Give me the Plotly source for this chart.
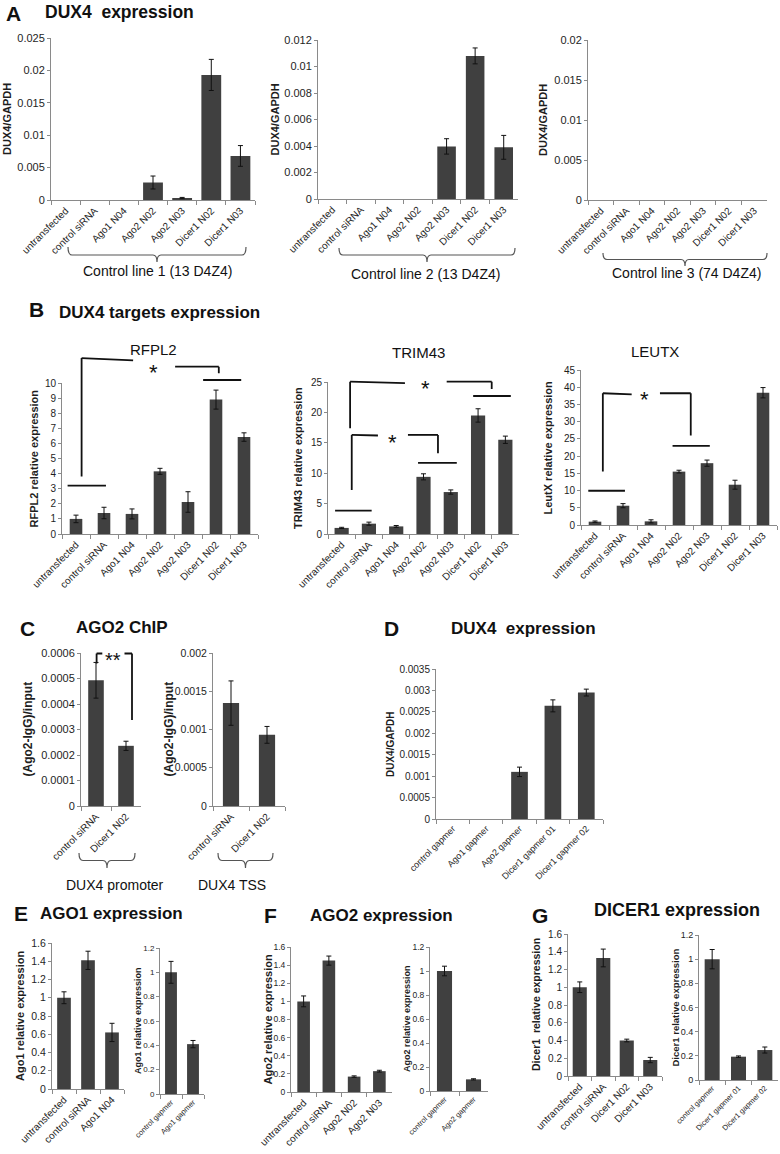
import plotly.graph_objects as go

# ------------------------------------------------------------------ data
sirna_cats = ["untransfected", "control siRNA", "Ago1 N04", "Ago2 N02",
              "Ago2 N03", "Dicer1 N02", "Dicer1 N03"]
chip_cats = ["control siRNA", "Dicer1 N02"]
gapmer_cats = ["control gapmer", "Ago1 gapmer", "Ago2 gapmer",
               "Dicer1 gapmer 01", "Dicer1 gapmer 02"]
ago1_sirna_cats = ["untransfected", "control siRNA", "Ago1 N04"]
ago1_gapmer_cats = ["control gapmer", "Ago1 gapmer"]
ago2_sirna_cats = ["untransfected", "control siRNA", "Ago2 N02", "Ago2 N03"]
ago2_gapmer_cats = ["control gapmer", "Ago2 gapmer"]
dicer_sirna_cats = ["untransfected", "control siRNA", "Dicer1 N02", "Dicer1 N03"]
dicer_gapmer_cats = ["control gapmer", "Dicer1 gapmer 01", "Dicer1 gapmer 02"]

a1_vals = [0, 0, 0, 0.0027, 0.0003, 0.0193, 0.0068]
a1_err = [0, 0, 0, 0.0010, 0.0001, 0.0024, 0.0016]
a2_vals = [0, 0, 0, 0, 0.00397, 0.0108, 0.0039]
a2_err = [0, 0, 0, 0, 0.00058, 0.0006, 0.0009]
a3_vals = [0, 0, 0, 0, 0, 0, 0]
a3_err = [0, 0, 0, 0, 0, 0, 0]

rfpl2_vals = [1.0, 1.39, 1.33, 4.15, 2.12, 8.9, 6.42]
rfpl2_err = [0.25, 0.38, 0.33, 0.2, 0.68, 0.63, 0.28]
trim43_vals = [1.0, 1.7, 1.25, 9.4, 6.9, 19.5, 15.5]
trim43_err = [0.1, 0.25, 0.15, 0.5, 0.35, 1.1, 0.6]
leutx_vals = [0.97, 5.6, 1.06, 15.5, 17.95, 11.7, 38.4]
leutx_err = [0.2, 0.6, 0.45, 0.4, 0.9, 1.3, 1.5]

chip_prom_vals = [0.000493, 0.000236]
chip_prom_err = [0.00007, 0.000018]
chip_tss_vals = [0.001345, 0.00093]
chip_tss_err = [0.00029, 0.00011]

d_vals = [0, 0, 0.0011, 0.00264, 0.00295]
d_err = [0, 0, 0.00011, 0.00014, 0.00008]

e1_vals = [1.0, 1.41, 0.62]
e1_err = [0.065, 0.1, 0.1]
e2_vals = [1.0, 0.41]
e2_err = [0.09, 0.03]
f1_vals = [1.0, 1.45, 0.17, 0.23]
f1_err = [0.06, 0.05, 0.008, 0.01]
f2_vals = [1.0, 0.097]
f2_err = [0.04, 0.005]
g1_vals = [1.0, 1.33, 0.40, 0.18]
g1_err = [0.06, 0.1, 0.015, 0.03]
g2_vals = [1.0, 0.193, 0.248]
g2_err = [0.08, 0.006, 0.025]

# tick labels (Excel style)
a1_ticks = ["0", "0.005", "0.01", "0.015", "0.02", "0.025"]
a2_ticks = ["0", "0.002", "0.004", "0.006", "0.008", "0.01", "0.012"]
a3_ticks = ["0", "0.005", "0.01", "0.015", "0.02"]
rfpl2_ticks = [str(v) for v in range(0, 11)]
trim43_ticks = ["0", "5", "10", "15", "20", "25"]
leutx_ticks = ["0", "5", "10", "15", "20", "25", "30", "35", "40", "45"]
chip_prom_ticks = ["0", "0.0001", "0.0002", "0.0003", "0.0004", "0.0005", "0.0006"]
chip_tss_ticks = ["0", "0.0005", "0.001", "0.0015", "0.002"]
d_ticks = ["0", "0.0005", "0.001", "0.0015", "0.002", "0.0025", "0.003", "0.0035"]
rel16_ticks = ["0", "0.2", "0.4", "0.6", "0.8", "1", "1.2", "1.4", "1.6"]
rel12_ticks = ["0", "0.2", "0.4", "0.6", "0.8", "1", "1.2"]

# ------------------------------------------------------------------ style / layout
W, H = 780, 1154
FONT = "Liberation Sans, Arial, Helvetica, sans-serif"
BAR_COLOR = "#404040"
AXIS_COLOR = "#8a8a8a"
TEXT_COLOR = "#1e1e1e"


def px(x):
    return x / W


def py(y):
    return 1 - y / H


# box = (x_left, x_right, y_top(max value), y_bottom(zero)) in page pixels
panels = [
    dict(cats=sirna_cats, vals=a1_vals, err=a1_err, ticks=a1_ticks, box=(51, 255, 38, 200),
         fill=0.68, ytf=11, xtf=10, title="DUX4/GAPDH", tx=7, tfs=11),
    dict(cats=sirna_cats, vals=a2_vals, err=a2_err, ticks=a2_ticks, box=(318, 518, 40, 199),
         fill=0.65, ytf=11, xtf=10, title="DUX4/GAPDH", tx=274, tfs=11),
    dict(cats=sirna_cats, vals=a3_vals, err=a3_err, ticks=a3_ticks, box=(588, 767, 40, 200),
         fill=0.65, ytf=11, xtf=10, title="DUX4/GAPDH", tx=543, tfs=11),
    dict(cats=sirna_cats, vals=rfpl2_vals, err=rfpl2_err, ticks=rfpl2_ticks, box=(62, 258, 383, 534),
         fill=0.45, ytf=10, xtf=10, title="RFPL2 relative expression", tx=33, tfs=11),
    dict(cats=sirna_cats, vals=trim43_vals, err=trim43_err, ticks=trim43_ticks, box=(328, 519, 382, 534),
         fill=0.52, ytf=10, xtf=10, title="TRIM43 relative expression", tx=298, tfs=11),
    dict(cats=sirna_cats, vals=leutx_vals, err=leutx_err, ticks=leutx_ticks, box=(581, 777, 370, 525),
         fill=0.45, ytf=10, xtf=10, title="LeutX relative expression", tx=548, tfs=11),
    dict(cats=chip_cats, vals=chip_prom_vals, err=chip_prom_err, ticks=chip_prom_ticks, box=(81, 141, 653, 806),
         fill=0.52, ytf=11, xtf=10, title="(Ago2-IgG)/input", tx=27, tfs=12),
    dict(cats=chip_cats, vals=chip_tss_vals, err=chip_tss_err, ticks=chip_tss_ticks, box=(213, 285, 653, 806),
         fill=0.45, ytf=10.5, xtf=10, title="(Ago2-IgG)/input", tx=168, tfs=12),
    dict(cats=gapmer_cats, vals=d_vals, err=d_err, ticks=d_ticks, box=(436, 603, 669, 819),
         fill=0.5, ytf=10, xtf=9, title="DUX4/GAPDH", tx=390, tfs=10),
    dict(cats=ago1_sirna_cats, vals=e1_vals, err=e1_err, ticks=rel16_ticks, box=(52, 124, 943, 1089),
         fill=0.57, ytf=10.5, xtf=10, title="Ago1 relative expression", tx=20, tfs=11),
    dict(cats=ago1_gapmer_cats, vals=e2_vals, err=e2_err, ticks=rel12_ticks, box=(160, 204, 948, 1094),
         fill=0.54, ytf=8, xtf=7.5, title="Ago1 relative expression", tx=138, tfs=9),
    dict(cats=ago2_sirna_cats, vals=f1_vals, err=f1_err, ticks=rel16_ticks, box=(291, 392, 947, 1092),
         fill=0.5, ytf=8.5, xtf=10, title="Ago2 relative expression", tx=267, tfs=11),
    dict(cats=ago2_gapmer_cats, vals=f2_vals, err=f2_err, ticks=rel12_ticks, box=(430, 488, 947, 1091),
         fill=0.52, ytf=8.5, xtf=7.5, title="Ago2 relative expression", tx=407, tfs=9),
    dict(cats=dicer_sirna_cats, vals=g1_vals, err=g1_err, ticks=rel16_ticks, box=(568, 662, 934, 1076),
         fill=0.6, ytf=10, xtf=10, title="Dicer1  relative expression", tx=536, tfs=10.5),
    dict(cats=dicer_gapmer_cats, vals=g2_vals, err=g2_err, ticks=rel12_ticks, box=(699, 778, 935, 1080),
         fill=0.57, ytf=9, xtf=7.5, title="Dicer1 relative expression", tx=675, tfs=9.5),
]

fig = go.Figure()
layout = dict(width=W, height=H, margin=dict(l=0, r=0, t=0, b=0, pad=0, autoexpand=False),
              paper_bgcolor="white", plot_bgcolor="rgba(0,0,0,0)", barmode="overlay",
              showlegend=False, font=dict(family=FONT, color=TEXT_COLOR))
annotations = []
shapes = []

for i, p in enumerate(panels, start=1):
    s = "" if i == 1 else str(i)
    x0, x1, yt, yb = p["box"]
    n = len(p["cats"])
    tickvals = [float(t) for t in p["ticks"]]
    layout["xaxis" + s] = dict(
        domain=[px(x0), px(x1)], anchor="y" + s, type="category", automargin=False,
        categoryorder="array", categoryarray=p["cats"], range=[-0.5, n - 0.5],
        showline=True, linecolor=AXIS_COLOR, linewidth=1, mirror=False,
        ticks="outside", tickson="boundaries", ticklen=4, tickcolor=AXIS_COLOR,
        tickangle=-45, tickfont=dict(size=p["xtf"], color=TEXT_COLOR, family=FONT),
        showgrid=False, zeroline=False, fixedrange=True)
    layout["yaxis" + s] = dict(
        domain=[py(yb), py(yt)], anchor="x" + s, range=[0, tickvals[-1]], automargin=False,
        tickmode="array", tickvals=tickvals, ticktext=p["ticks"],
        showline=True, linecolor=AXIS_COLOR, linewidth=1,
        ticks="outside", ticklen=3, tickcolor=AXIS_COLOR,
        tickfont=dict(size=p["ytf"], color=TEXT_COLOR, family=FONT),
        showgrid=False, zeroline=False, fixedrange=True)
    # bars
    fig.add_trace(go.Bar(
        x=p["cats"], y=p["vals"], xaxis="x" + s, yaxis="y" + s, width=p["fill"],
        marker=dict(color=BAR_COLOR, line=dict(width=0)), hoverinfo="x+y"))
    # error bars (only where an error was measured)
    keep = [k for k, e in enumerate(p["err"]) if e > 0]
    if keep:
        fig.add_trace(go.Scatter(
            x=[p["cats"][k] for k in keep], y=[p["vals"][k] for k in keep],
            xaxis="x" + s, yaxis="y" + s, mode="markers",
            marker=dict(size=1, opacity=0), hoverinfo="skip",
            error_y=dict(type="data", array=[p["err"][k] for k in keep], visible=True,
                         color="#111111", thickness=1, width=2.5)))
    annotations.append(dict(
        text="<b>%s</b>" % p["title"], xref="paper", yref="paper",
        x=px(p["tx"]), y=py((yt + yb) / 2), textangle=-90, showarrow=False,
        xanchor="center", yanchor="middle",
        font=dict(size=p["tfs"], color=TEXT_COLOR, family=FONT)))

# ------------------------------------------------------------------ significance brackets
# (panel index, headroom top value, segments in (category index, value), stars)
sig = [
    (4, 12.6,
     [(-0.3, 3.2, 1.07, 3.2), (0.2, 3.8, 0.2, 11.65), (0.2, 11.65, 2.04, 11.5),
      (3.54, 11.08, 5.1, 11.08), (5.1, 11.08, 5.1, 10.64), (4.54, 10.2, 5.9, 10.2)],
     [("*", 2.75, 10.7, 22)]),
    (5, 26.8,
     [(-0.24, 3.83, 1.1, 3.83), (0.37, 7.24, 0.37, 16.3), (0.37, 16.3, 1.33, 16.2),
      (2.43, 16.3, 3.53, 16.3), (3.53, 16.3, 3.53, 13.3), (2.8, 11.7, 4.22, 11.7),
      (0.31, 17.4, 0.31, 25.05), (0.31, 25.05, 2.32, 24.8),
      (3.85, 25.05, 5.5, 25.05), (5.5, 25.05, 5.5, 23.85), (4.82, 22.7, 6.2, 22.7)],
     [("*", 1.87, 15.1, 22), ("*", 3.08, 23.9, 22)]),
    (6, 46.0,
     [(-0.24, 9.94, 1.07, 9.94), (0.28, 15.5, 0.28, 38.25), (0.28, 38.25, 1.31, 37.9),
      (2.32, 38.25, 3.42, 38.25), (3.42, 38.25, 3.42, 26.0), (2.77, 23.0, 4.1, 23.0)],
     [("*", 1.75, 36.4, 22)]),
    (7, 0.00066,
     [(0.02, 0.000559, 0.02, 0.000598), (0.02, 0.000598, 0.21, 0.000598),
      (0.95, 0.000598, 1.2, 0.000598), (1.2, 0.000598, 1.2, 0.000337)],
     [("**", 0.58, 0.000572, 20)]),
]

ext_id = len(panels)
for pidx, top, segs, stars in sig:
    p = panels[pidx - 1]
    x0, x1, yt, yb = p["box"]
    ymax = float(p["ticks"][-1])
    n = len(p["cats"])
    ext_id += 1
    s = str(ext_id)
    ytop_px = yb - (yb - yt) * top / ymax
    layout["xaxis" + s] = dict(domain=[px(x0), px(x1)], anchor="y" + s, range=[-0.5, n - 0.5],
                               visible=False, fixedrange=True, automargin=False)
    layout["yaxis" + s] = dict(domain=[py(yb), py(ytop_px)], anchor="x" + s, range=[0, top],
                               visible=False, fixedrange=True, automargin=False)
    fig.add_trace(go.Scatter(x=[None], y=[None], xaxis="x" + s, yaxis="y" + s,
                             mode="lines", hoverinfo="skip"))
    for (ax0, ay0, ax1, ay1) in segs:
        shapes.append(dict(type="line", xref="x" + s, yref="y" + s, x0=ax0, y0=ay0,
                           x1=ax1, y1=ay1, line=dict(color="#111111", width=1.8)))
    for (txt, sx, sy, fs) in stars:
        annotations.append(dict(text=txt, xref="x" + s, yref="y" + s, x=sx, y=sy,
                                showarrow=False, xanchor="center", yanchor="middle",
                                font=dict(size=fs, color="#111111", family=FONT)))


# ------------------------------------------------------------------ braces under groups
def brace(xl, xr, ytop, ymid, ybot, r=4):
    xc = (xl + xr) / 2
    pts = [
        ("M", xl, ytop), ("Q", xl, ymid, xl + r, ymid), ("L", xc - r, ymid),
        ("Q", xc, ymid, xc, ybot), ("Q", xc, ymid, xc + r, ymid), ("L", xr - r, ymid),
        ("Q", xr, ymid, xr, ytop)]
    path = ""
    for item in pts:
        cmd = item[0]
        coords = item[1:]
        path += cmd + " " + " ".join(
            "%.5f,%.5f" % (px(coords[k]), py(coords[k + 1])) for k in range(0, len(coords), 2)) + " "
    return dict(type="path", xref="paper", yref="paper", path=path.strip(),
                line=dict(color="#555555", width=1.2))


shapes.append(brace(68, 246, 247, 255, 262))
shapes.append(brace(339, 515, 248, 255, 262))
shapes.append(brace(603, 767, 253, 259.5, 266))
shapes.append(brace(79, 135, 853, 860.5, 868))
shapes.append(brace(218, 273, 853, 860.5, 868))


def text(t, x, y, size, bold=False):
    annotations.append(dict(text="<b>%s</b>" % t if bold else t, xref="paper", yref="paper",
                            x=px(x), y=py(y), showarrow=False, xanchor="center",
                            yanchor="middle", font=dict(size=size, color="#111111", family=FONT)))


# group labels
text("Control line 1 (13 D4Z4)", 157, 271, 14)
text("Control line 2 (13 D4Z4)", 426, 274, 14)
text("Control line 3 (74 D4Z4)", 686, 273, 14)
text("DUX4 promoter", 115, 885, 14)
text("DUX4 TSS", 232, 885, 14)

# sub-chart titles
text("RFPL2", 153, 349, 15)
text("TRIM43", 418, 352, 15)
text("LEUTX", 655, 351, 15)

# panel letters and headings
text("A", 14, 13, 21, True)
text("DUX4\u00a0 expression", 119, 12, 17.5, True)
text("B", 36, 310, 21, True)
text("DUX4 targets expression", 159, 313, 17, True)
text("C", 27, 628, 21, True)
text("AGO2 ChIP", 122, 627, 17, True)
text("D", 391, 628, 21, True)
text("DUX4\u00a0 expression", 523, 628, 17, True)
text("E", 21, 913, 21, True)
text("AGO1 expression", 111, 913, 17, True)
text("F", 270, 915, 21, True)
text("AGO2 expression", 381, 915, 17, True)
text("G", 540, 915, 21, True)
text("DICER1 expression", 677, 910, 18, True)

layout["annotations"] = annotations
layout["shapes"] = shapes
fig.update_layout(**layout)

fig.write_html("out.html", config={"displayModeBar": False},
               post_script="document.body.style.margin='0';")
